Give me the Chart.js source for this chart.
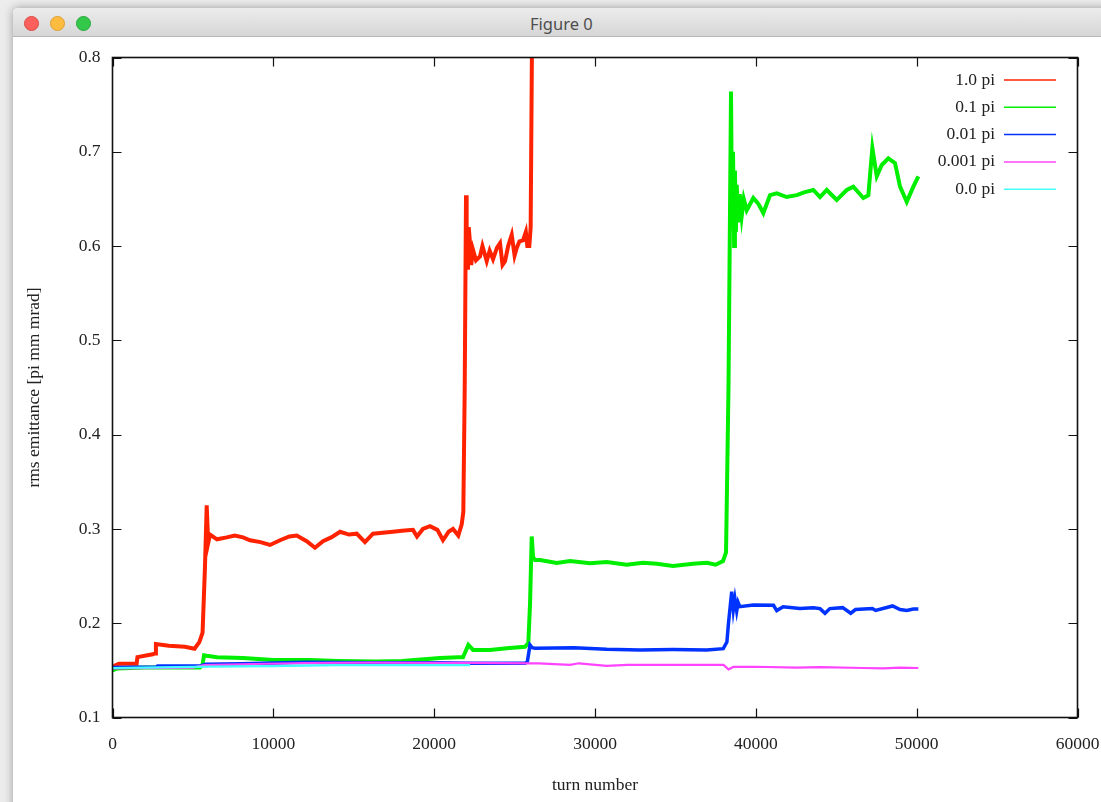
<!DOCTYPE html>
<html lang="en">
<head>
  <meta charset="UTF-8" />
  <title>Figure 0</title>
  <script src="https://cdn.jsdelivr.net/npm/chart.js"></script>
  <style>
    html, body {
      margin: 0;
      padding: 0;
      width: 1101px;
      height: 802px;
      overflow: hidden;
      background: #ececec;
      font-family: 'Noto Sans', sans-serif;
    }
    .window {
      position: absolute;
      left: 13px;
      top: 8px;
      width: 1110px;
      height: 820px;
      background: #fff;
      border-radius: 5px 5px 0 0;
      box-shadow: 0 0 10px rgba(0, 0, 0, 0.35);
      overflow: hidden;
    }
    .titlebar {
      height: 28px;
      background: linear-gradient(#ececec, #d6d6d6);
      border-bottom: 1px solid #b8b8b8;
      position: relative;
    }
    .titlebar span {
      position: absolute;
      left: 517px;
      top: 4px;
      font-size: 16.5px;
      color: #4d4d4d;
    }
    .light {
      position: absolute;
      top: 8px;
      width: 13px;
      height: 13px;
      border-radius: 50%;
    }
    #chart {
      position: absolute;
      left: 0;
      top: 0;
    }
  </style>
</head>
<body>
  <div class="window">
    <div class="titlebar">
      <div class="light" style="left:11px;background:#fc605c;border:0.5px solid #de4a45"></div>
      <div class="light" style="left:37px;background:#fdbc40;border:0.5px solid #dea033"></div>
      <div class="light" style="left:63px;background:#34c84a;border:0.5px solid #27a83a"></div>
      <span>Figure 0</span>
    </div>
  </div>
  <canvas id="chart" width="1101" height="802"></canvas>

  <script>
    // values
    const xTicks = [0, 10000, 20000, 30000, 40000, 50000, 60000];
    const yTicks = [0.1, 0.2, 0.3, 0.4, 0.5, 0.6, 0.7, 0.8];

    const redTurns = [0, 150, 400, 1500, 1550, 2500, 2650, 2700, 3500, 4500, 5100, 5400, 5600, 5750, 5857, 5950,
      6063, 6500, 7101, 7600, 8115, 8550, 9200, 9793, 10415, 11000, 11454, 12075, 12589, 13087, 13600, 14150,
      14700, 15184, 15696, 16197, 16800, 17440, 18000, 18684, 18932, 19300, 19741, 20200, 20549, 20900, 21172,
      21500, 21713, 21813, 21900, 21980, 22020, 22062, 22100, 22150, 22229, 22300, 22415, 22600, 22850, 23000,
      23268, 23450, 23660, 23900, 24095, 24250, 24406, 24600, 24822, 25000, 25133, 25300, 25525, 25700, 25792,
      25917, 26000, 26100];
    const redEmit = [0.150, 0.155, 0.157, 0.157, 0.164, 0.167, 0.168, 0.178, 0.176, 0.175, 0.173, 0.180, 0.190,
      0.260, 0.325, 0.285, 0.294, 0.289, 0.291, 0.293, 0.291, 0.288, 0.286, 0.283, 0.288, 0.292, 0.293, 0.287,
      0.280, 0.287, 0.291, 0.297, 0.294, 0.295, 0.286, 0.295, 0.296, 0.297, 0.298, 0.299, 0.292, 0.300, 0.303,
      0.299, 0.288, 0.297, 0.300, 0.293, 0.305, 0.318, 0.450, 0.654, 0.580, 0.610, 0.575, 0.620, 0.603, 0.580,
      0.596, 0.585, 0.589, 0.600, 0.584, 0.595, 0.586, 0.598, 0.603, 0.580, 0.584, 0.600, 0.612, 0.590, 0.598,
      0.605, 0.606, 0.615, 0.600, 0.600, 0.620, 0.860];

    const greenTurns = [0, 300, 2000, 4200, 5441, 5600, 5690, 5857, 6500, 8115, 10000, 12281, 14000, 16428, 18000,
      20364, 21500, 21794, 21950, 22124, 22416, 23472, 24511, 25649, 25854, 25960, 26065, 26150, 26271, 26582,
      27620, 28447, 29691, 30728, 31972, 32986, 33838, 34852, 36095, 36947, 37500, 37961, 38147, 38300, 38457,
      38520, 38582, 38650, 38700, 38760, 38812, 38900, 39000, 39123, 39250, 39434, 39844, 40150, 40466, 40883,
      41299, 41921, 42543, 43000, 43576, 43992, 44408, 45030, 45652, 46063, 46685, 46996, 47245, 47519, 47829,
      48240, 48655, 48967, 49383, 49794, 50105];
    const greenEmit = [0.150, 0.152, 0.153, 0.153, 0.153, 0.156, 0.166, 0.1655, 0.164, 0.163, 0.161, 0.161, 0.160,
      0.1593, 0.160, 0.163, 0.164, 0.164, 0.170, 0.177, 0.1717, 0.1717, 0.1735, 0.175, 0.179, 0.220, 0.292, 0.270,
      0.267, 0.267, 0.264, 0.266, 0.2636, 0.265, 0.262, 0.264, 0.263, 0.2608, 0.263, 0.264, 0.262, 0.266, 0.275,
      0.450, 0.764, 0.620, 0.700, 0.600, 0.680, 0.615, 0.665, 0.625, 0.655, 0.632, 0.650, 0.638, 0.651, 0.645,
      0.635, 0.654, 0.656, 0.652, 0.654, 0.657, 0.6595, 0.652, 0.6595, 0.649, 0.6595, 0.663, 0.651, 0.654, 0.704,
      0.674, 0.686, 0.693, 0.688, 0.663, 0.647, 0.663, 0.674];

    const blueTurns = [0, 2700, 2800, 5500, 5800, 8000, 12000, 16000, 20364, 22416, 25649, 25792, 25960, 26100,
      26271, 28700, 30728, 32800, 34850, 36947, 37975, 38200, 38300, 38500, 38600, 38700, 38812, 38900, 39000,
      39844, 41100, 41299, 41700, 42740, 43576, 43992, 44300, 44600, 45400, 45900, 46200, 47245, 47450, 48500,
      48967, 49383, 49794, 50105];
    const blueEmit = [0.153, 0.1535, 0.1547, 0.155, 0.1565, 0.157, 0.1586, 0.158, 0.1582, 0.1575, 0.1575, 0.159,
      0.177, 0.174, 0.1735, 0.174, 0.1724, 0.1717, 0.172, 0.1717, 0.173, 0.180, 0.200, 0.2335, 0.214, 0.226,
      0.213, 0.222, 0.2176, 0.2194, 0.219, 0.2134, 0.2175, 0.2155, 0.2165, 0.2155, 0.2106, 0.2155, 0.2165,
      0.2106, 0.2145, 0.2155, 0.2135, 0.2183, 0.2145, 0.2135, 0.215, 0.2152];

    const magentaTurns = [0, 5000, 5700, 8000, 12000, 16000, 20364, 22229, 25960, 26500, 28447, 29000, 30728,
      32000, 34852, 37990, 38300, 38600, 40000, 42543, 44000, 46685, 47900, 48967, 50105];
    const magentaEmit = [0.152, 0.153, 0.1555, 0.1565, 0.1578, 0.1582, 0.158, 0.158, 0.1575, 0.1575, 0.1558,
      0.1575, 0.1547, 0.1558, 0.1558, 0.1558, 0.151, 0.1536, 0.1538, 0.153, 0.1535, 0.1525, 0.152, 0.153, 0.1525];

    const cyanTurns = [0, 2000, 6063, 10000, 14000, 18000, 20000, 22229];
    const cyanEmit = [0.1525, 0.153, 0.154, 0.1545, 0.1555, 0.1555, 0.1555, 0.1555];

    const seriesNames = ['1.0 pi', '0.1 pi', '0.01 pi', '0.001 pi', '0.0 pi'];
    const seriesColors = ['#ff2200', '#00ee00', '#0033ff', '#ff44ff', '#44ffff'];

    const serif = '"Liberation Serif", "Times New Roman", serif';

    function pts(xs, ys) {
      return xs.map((x, i) => ({ x: x, y: ys[i] }));
    }

    const allSeries = [
      pts(redTurns, redEmit),
      pts(greenTurns, greenEmit),
      pts(blueTurns, blueEmit),
      pts(magentaTurns, magentaEmit),
      pts(cyanTurns, cyanEmit)
    ];
    const widths = [4, 4, 3.5, 2.2, 2.2];

    // gnuplot style frame, inward ticks on all sides and key
    const gnuplotBits = {
      id: 'gnuplotBits',
      afterDatasetsDraw(chart) {
        const { ctx, chartArea: a, scales: { x, y } } = chart;
        ctx.save();
        ctx.strokeStyle = '#111';
        ctx.lineWidth = 1.2;
        ctx.beginPath();
        x.ticks.forEach(t => {
          const px = Math.round(x.getPixelForValue(t.value)) + 0.5;
          ctx.moveTo(px, a.bottom); ctx.lineTo(px, a.bottom - 9);
          ctx.moveTo(px, a.top); ctx.lineTo(px, a.top + 9);
        });
        y.ticks.forEach(t => {
          const py = Math.round(y.getPixelForValue(t.value)) + 0.5;
          ctx.moveTo(a.left, py); ctx.lineTo(a.left + 9, py);
          ctx.moveTo(a.right, py); ctx.lineTo(a.right - 9, py);
        });
        ctx.stroke();
        ctx.lineWidth = 1.6;
        ctx.strokeRect(a.left, a.top, a.right - a.left, a.bottom - a.top);

        ctx.font = '17.5px ' + serif;
        ctx.textAlign = 'right';
        ctx.textBaseline = 'middle';
        chart.data.datasets.forEach((ds, i) => {
          const ry = 80 + i * 27.3;
          ctx.fillStyle = '#222';
          ctx.fillText(ds.label, 995, ry);
          ctx.strokeStyle = ds.borderColor;
          ctx.lineWidth = 1.5;
          ctx.beginPath();
          ctx.moveTo(1004, ry);
          ctx.lineTo(1056, ry);
          ctx.stroke();
        });
        ctx.restore();
      }
    };

    new Chart(document.getElementById('chart'), {
      type: 'line',
      data: {
        datasets: allSeries.map((d, i) => ({
          label: seriesNames[i],
          data: d,
          borderColor: seriesColors[i],
          borderWidth: widths[i],
          pointRadius: 0,
          tension: 0,
          order: 5 - i
        }))
      },
      options: {
        responsive: false,
        animation: false,
        events: [],
        layout: { padding: { left: 0, right: 23.5, top: 57.5, bottom: 0 } },
        plugins: { legend: { display: false }, tooltip: { enabled: false } },
        scales: {
          x: {
            type: 'linear',
            min: 0,
            max: 60000,
            afterBuildTicks: s => { s.ticks = xTicks.map(v => ({ value: v })); },
            ticks: {
              autoSkip: false,
              maxRotation: 0,
              padding: 16,
              color: '#222',
              font: { family: serif, size: 17.5 },
              callback: v => String(v)
            },
            grid: { display: false, drawTicks: false },
            border: { display: false },
            title: {
              display: true,
              text: 'turn number',
              color: '#222',
              font: { family: serif, size: 17.5 },
              padding: { top: 0, bottom: 6 }
            },
            afterFit: s => { s.height = 84.5; s.paddingLeft = 0; s.paddingRight = 0; }
          },
          y: {
            min: 0.1,
            max: 0.8,
            afterBuildTicks: s => { s.ticks = yTicks.map(v => ({ value: v })); },
            ticks: {
              padding: 12,
              color: '#222',
              font: { family: serif, size: 17.5 },
              callback: v => v.toFixed(1)
            },
            grid: { display: false, drawTicks: false },
            border: { display: false },
            title: {
              display: true,
              text: 'rms emittance [pi mm mrad]',
              color: '#222',
              font: { family: serif, size: 17.5 },
              padding: { top: 24, bottom: 0 }
            },
            afterFit: s => { s.width = 112.5; s.paddingTop = 0; s.paddingBottom = 0; }
          }
        }
      },
      plugins: [gnuplotBits]
    });
  </script>
</body>
</html>
